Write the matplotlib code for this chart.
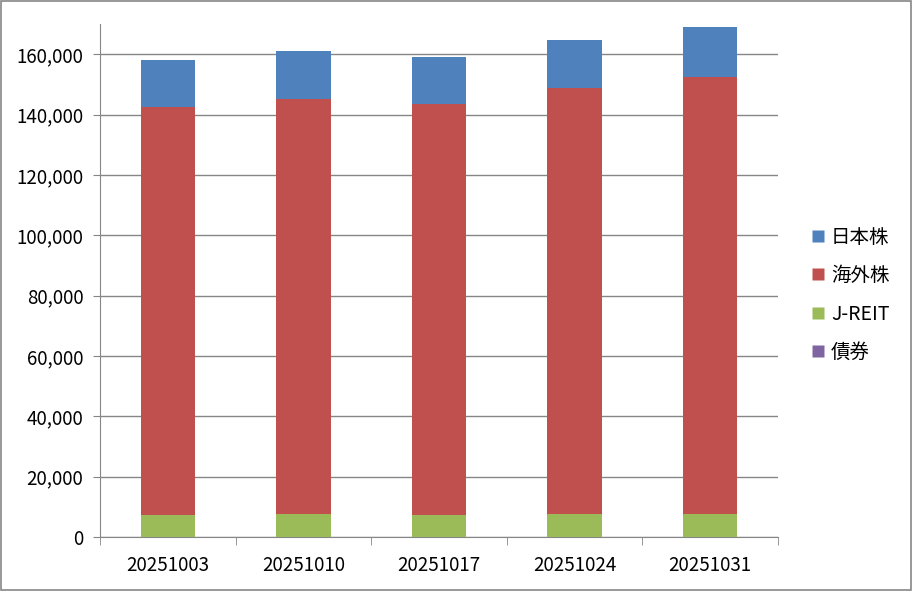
import numpy as np
import matplotlib
matplotlib.use("Agg")
import matplotlib.pyplot as plt
from matplotlib.patches import Rectangle
from matplotlib.lines import Line2D

plt.rcParams['font.family'] = ['Noto Sans CJK JP', 'DejaVu Sans']

# データ (円)
dates = ['20251003', '20251010', '20251017', '20251024', '20251031']
jreit = [7300, 7500, 7400, 7600, 7600]
kaigai = [135300, 137800, 136200, 141300, 144900]
nihon = [15400, 15600, 15400, 15700, 16400]
saiken = [0, 0, 0, 0, 0]
series_names = ['日本株', '海外株', 'J-REIT', '債券']
colors = ['#4F81BD', '#C0504D', '#9BBB59', '#8064A2']
yticks = np.arange(0, 160001, 20000)

fig = plt.figure(figsize=(9.13, 5.91), dpi=100)
ax = fig.add_axes([100 / 913, 1 - 537 / 591, 678 / 913, 513 / 591])

x = np.arange(len(dates))
w = 0.4
bottom = np.zeros(len(dates))
# 下から: 債券, J-REIT, 海外株, 日本株
for vals, col in [(saiken, colors[3]), (jreit, colors[2]),
                  (kaigai, colors[1]), (nihon, colors[0])]:
    ax.bar(x, vals, w, bottom=bottom, color=col, edgecolor='none', zorder=3)
    bottom += np.array(vals)

ax.set_xlim(-0.5, len(dates) - 0.5)
ax.set_ylim(0, 170000)
ax.set_yticks(yticks)
ax.set_yticklabels([f'{v:,}' for v in yticks])
ax.set_xticks(x)
ax.set_xticklabels(dates)
ax.set_xticks(np.arange(-0.5, len(dates), 1), minor=True)
ax.tick_params(axis='x', which='major', length=0, pad=13, labelsize=13.5)
ax.tick_params(axis='x', which='minor', length=6, color='#868686', direction='out')
ax.tick_params(axis='y', length=5, color='#868686', pad=7, labelsize=13.5)

ax.grid(axis='y', color='#868686', lw=1, zorder=0)
for s in ['top', 'right']:
    ax.spines[s].set_visible(False)
for s in ['left', 'bottom']:
    ax.spines[s].set_color('#868686')

handles = [Line2D([], [], marker='s', ls='none', markersize=8,
                  markerfacecolor=c, markeredgecolor='none') for c in colors]
fig.legend(handles, series_names, loc='center left',
           bbox_to_anchor=(791 / 913, 1 - 295 / 591), frameon=False,
           fontsize=14, labelspacing=0.9, handletextpad=0.15, handlelength=1.0)

fig.patches.append(Rectangle((0.001, 0.001), 0.997, 0.997, transform=fig.transFigure,
                             fill=False, edgecolor='#868686', lw=1.2))

fig.savefig('out.png', dpi=100)
